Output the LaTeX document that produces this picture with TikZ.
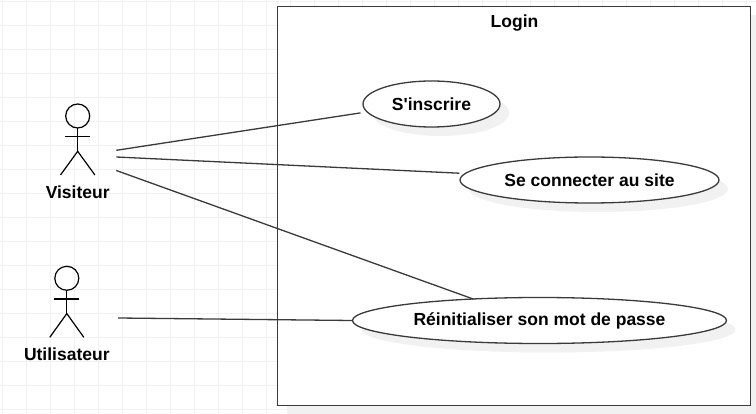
\documentclass[tikz,border=0pt]{standalone}
\usepackage{fontspec}
\setmainfont{Liberation Sans}[Ligatures=TeXOff]
\usetikzlibrary{calc,positioning,shapes.geometric}
\definecolor{grille}{HTML}{F1F1F1}
\definecolor{ombre}{HTML}{F1F1F1}
\definecolor{trait}{HTML}{3A3A3A}
\tikzset{
    cas/.style={ellipse,draw=trait,fill=white,line width=1.3pt,inner sep=0pt,font=\fontsize{17.5}{20}\selectfont\bfseries},
    ombrecas/.style={ellipse,fill=ombre,inner sep=0pt},
    lien/.style={trait,line width=1.3pt},
    tete/.style={circle,draw=black,line width=1.2pt,inner sep=0pt,outer sep=0pt,minimum size=24pt},
    acteur/.style={font=\fontsize{17.5}{20}\selectfont\bfseries},
}
\begin{document}
\begin{tikzpicture}[x=1pt,y=-1pt]
    \clip (0,0) rectangle (756,414);
    \fill[white] (0,0) rectangle (756,414);
    % fond
    \foreach \x in {2.7,26.7,...,756}{
        \draw[grille,line width=1pt] (\x,0)--(\x,414);
    }
    \foreach \y in {1.3,25.3,...,414}{
        \draw[grille,line width=1pt] (0,\y)--(756,\y);
    }
    % systeme
    \fill[ombre] (286.5,15) rectangle (760,414.7);
    \node[draw=trait,fill=white,line width=1.4pt,inner sep=0pt,minimum width=473pt,minimum height=399.5pt] (systeme) at (514.2,206) {};
    \node[font=\fontsize{17.5}{20}\selectfont\bfseries] (titre) at (514.5,23.5) {Login};

    % cas d'utilisation
    \foreach \n/\cx/\cy/\rx/\t in {inscrire/431.5/104/137/{S'inscrire},connecter/589.5/180/259/{Se connecter au site},reinit/539.5/320.5/374/{Réinitialiser son mot de passe}}{
        \node[ombrecas,minimum width=\rx pt,minimum height=46pt] (o\n) at (\cx+9,\cy+9) {};
        \node[cas,minimum width=\rx pt,minimum height=46pt] (\n) at (\cx,\cy) {\t};
    }

    % acteurs
    \foreach \n/\cx/\cy/\dx/\t in {vis/77.7/116/17.2/Visiteur,util/66.8/278.3/17/Utilisateur}{
        \node[tete] (\n) at (\cx,\cy) {};
        \draw[black,line width=1.2pt] (\n.south)--++(0,23.3) coordinate (\n b);
        \draw[black,line width=1.2pt] (\cx-12.5,\cy+20.7)--(\cx+12.5,\cy+20.7);
        \draw[black,line width=1.2pt] (\cx-\dx,\cy+59)--(\n b)--(\cx+\dx,\cy+59);
        \node[acteur] (n\n) at (\cx,\cy+76.3) {\t};
    }

    % liens
    \coordinate (v1) at (116.3,150.3);
    \coordinate (v2) at (116.3,157);
    \coordinate (v3) at (116.3,170.5);
    \coordinate (u1) at (118,318);
    \draw[lien,shorten >=6pt] (v1)--(inscrire.187);
    \draw[lien,shorten >=5pt] (v2)--(connecter.177);
    \draw[lien,shorten >=-2pt] (v3)--(reinit.162);
    \draw[lien] (u1)--(reinit.west);
\end{tikzpicture}
\end{document}
